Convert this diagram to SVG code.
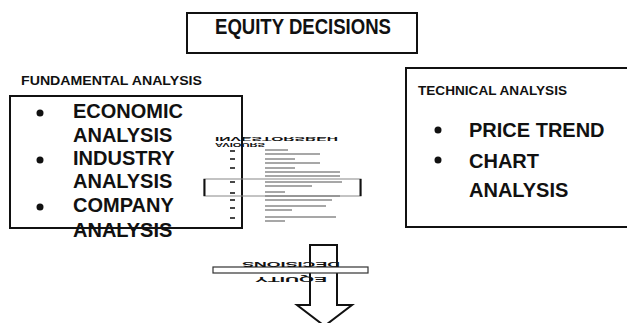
<svg xmlns="http://www.w3.org/2000/svg" width="627" height="323" viewBox="0 0 627 323">
<style>
.box{fill:#fff;stroke:#111;stroke-width:2}
.hd{font-family:"Liberation Sans",Arial,sans-serif;font-weight:bold;fill:#111}
.it{font-family:"Liberation Sans",Arial,sans-serif;font-weight:bold;font-size:20px;fill:#111}
.bl{fill:#111}
.tl{stroke:#8a8a8a;stroke-width:1.5}
.dash{stroke:#333;stroke-width:1.8}
</style>
<rect width="627" height="323" fill="#fff"/>
<g id="equity-decisions">
<rect class="box" x="187" y="13" width="230" height="40"/>
<text class="hd" x="215" y="34" font-size="22" textLength="176" lengthAdjust="spacingAndGlyphs">EQUITY DECISIONS</text>
</g>
<g id="fundamental-analysis">
<text class="hd" x="21" y="85" font-size="13" textLength="181" lengthAdjust="spacingAndGlyphs">FUNDAMENTAL ANALYSIS</text>
<rect x="10" y="96" width="232" height="132" fill="none" stroke="#111" stroke-width="2"/>
<circle class="bl" cx="40" cy="113" r="3.5"/>
<circle class="bl" cx="40" cy="160" r="3.5"/>
<circle class="bl" cx="40" cy="207" r="3.5"/>
<text class="it" x="73" y="118">ECONOMIC</text>
<text class="it" x="73" y="142">ANALYSIS</text>
<text class="it" x="73" y="165">INDUSTRY</text>
<text class="it" x="73" y="188">ANALYSIS</text>
<text class="it" x="73" y="212">COMPANY</text>
<text class="it" x="73" y="237">ANALYSIS</text>
</g>
<g id="technical-analysis">
<rect class="box" x="406" y="68" width="230" height="159"/>
<text class="hd" x="418" y="95" font-size="13" textLength="149" lengthAdjust="spacingAndGlyphs">TECHNICAL ANALYSIS</text>
<circle class="bl" cx="438" cy="130" r="3.5"/>
<circle class="bl" cx="438" cy="160" r="3.5"/>
<text class="it" x="469" y="137">PRICE TREND</text>
<text class="it" x="469" y="168">CHART</text>
<text class="it" x="469" y="197">ANALYSIS</text>
</g>
<g id="investors-behaviours">
<text class="hd" transform="translate(0,274) scale(1,-1)" x="215" y="137" font-size="6" textLength="123" lengthAdjust="spacingAndGlyphs" fill="#333">INVESTORSBEH</text>
<text class="hd" transform="translate(0,280) scale(1,-1)" x="215" y="137" font-size="6" textLength="50" lengthAdjust="spacingAndGlyphs" fill="#333">AVIOURS</text>
<g>
<line class="dash" x1="230" y1="151" x2="235" y2="151"/>
<line class="dash" x1="230" y1="159" x2="235" y2="159"/>
<line class="dash" x1="230" y1="168" x2="235" y2="168"/>
<line class="dash" x1="230" y1="182" x2="235" y2="182"/>
<line class="dash" x1="230" y1="193" x2="235" y2="193"/>
<line class="dash" x1="230" y1="200" x2="235" y2="200"/>
<line class="dash" x1="230" y1="208" x2="235" y2="208"/>
<line class="dash" x1="230" y1="218" x2="235" y2="218"/>
</g>
<g>
<line class="tl" x1="265" y1="150" x2="288" y2="150"/>
<line class="tl" x1="265" y1="154" x2="320" y2="154"/>
<line class="tl" x1="265" y1="159" x2="295" y2="159"/>
<line class="tl" x1="265" y1="163" x2="320" y2="163"/>
<line class="tl" x1="265" y1="168" x2="295" y2="168"/>
<line class="tl" x1="265" y1="172" x2="340" y2="172"/>
<line class="tl" x1="265" y1="176" x2="340" y2="176"/>
<line class="tl" x1="265" y1="182" x2="342" y2="182"/>
<line class="tl" x1="265" y1="186" x2="312" y2="186"/>
<line class="tl" x1="265" y1="192" x2="285" y2="192"/>
<line class="tl" x1="265" y1="196" x2="340" y2="196"/>
<line class="tl" x1="265" y1="200" x2="332" y2="200"/>
<line class="tl" x1="265" y1="206" x2="326" y2="206"/>
<line class="tl" x1="265" y1="210" x2="292" y2="210"/>
<line class="tl" x1="265" y1="217" x2="336" y2="217"/>
<line class="tl" x1="265" y1="221" x2="285" y2="221"/>
</g>
<rect x="204" y="179" width="157" height="17" fill="none" stroke="#888" stroke-width="1"/>
<line x1="204.5" y1="179" x2="204.5" y2="196" stroke="#111" stroke-width="2"/>
<line x1="360.5" y1="179" x2="360.5" y2="196" stroke="#111" stroke-width="2"/>
</g>
<g id="connectors">
<path d="M310 245 H337 V305 H352 L324.5 326 L297 305 H310 Z" fill="#fff" stroke="#111" stroke-width="2"/>
<g id="equity-decisions-band">
<rect x="213" y="267" width="155" height="6" fill="#fff" stroke="#333" stroke-width="1.2"/>
<text class="hd" transform="rotate(180 291 265)" x="291" y="268" font-size="8" text-anchor="middle" textLength="98" lengthAdjust="spacingAndGlyphs">DECISIONS</text>
<text class="hd" transform="rotate(180 291 280)" x="291" y="283" font-size="8" text-anchor="middle" textLength="72" lengthAdjust="spacingAndGlyphs">EQUITY</text>
</g>
</g>
</svg>
